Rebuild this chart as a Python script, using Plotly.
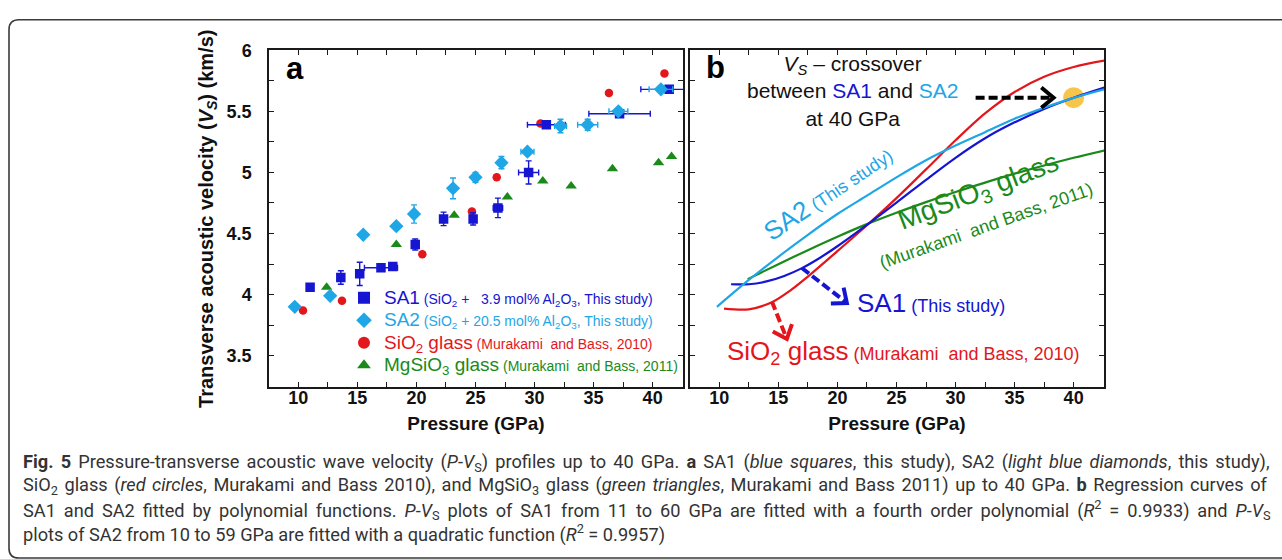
import math
import plotly.graph_objects as go

# ---------------- Panel a: measured P-Vs data ----------------
sa1_p = [11.0, 13.6, 15.2, 17.0, 18.0, 19.9, 22.3, 24.8, 26.9, 29.5, 31.0, 37.2, 41.4]
sa1_v = [4.06, 4.14, 4.17, 4.22, 4.23, 4.41, 4.62, 4.62, 4.71, 5.00, 5.39, 5.48, 5.68]
sa1_perr = [0, 0, 0, 1.4, 0, 0, 0, 0, 0.4, 0.85, 1.6, 2.6, 2.4]
sa1_verr = [0, 0.055, 0.095, 0, 0.02, 0.045, 0.055, 0.05, 0.08, 0.095, 0, 0, 0]

sa2_p = [9.7, 12.7, 15.5, 18.3, 19.8, 23.1, 25.0, 27.2, 29.4, 32.2, 34.5, 37.1, 40.7]
sa2_v = [3.90, 3.99, 4.49, 4.56, 4.66, 4.87, 4.96, 5.08, 5.17, 5.38, 5.39, 5.50, 5.68]
sa2_perr = [0.25, 0, 0, 0, 0, 0, 0, 0.3, 0.55, 0.5, 0.85, 0.8, 1.0]
sa2_verr = [0, 0, 0, 0, 0.075, 0.085, 0.04, 0.05, 0.02, 0.055, 0.045, 0.02, 0]

sio2_p = [10.4, 13.7, 20.5, 24.7, 26.8, 30.5, 36.3, 41.0]
sio2_v = [3.87, 3.95, 4.33, 4.68, 4.96, 5.40, 5.65, 5.81]

mgsio3_p = [12.4, 18.3, 23.2, 27.7, 30.7, 33.1, 36.6, 40.5, 41.6]
mgsio3_v = [4.06, 4.41, 4.65, 4.80, 4.93, 4.89, 5.03, 5.08, 5.13]

# ---------------- Panel b: regression curves ----------------
fit_sa1_p = [11.0, 12.5, 14.0, 15.5, 17.0, 18.5, 20.0, 22.5, 25.0, 27.5, 30.0, 32.5, 35.0, 37.5, 40.0, 42.6]
fit_sa1_v = [4.085, 4.085, 4.108, 4.153, 4.217, 4.300, 4.396, 4.571, 4.753, 4.940, 5.120, 5.280, 5.410, 5.520, 5.611, 5.694]

fit_sa2_p = [9.8, 12.5, 15.0, 17.5, 20.0, 22.5, 25.0, 27.5, 30.0, 32.5, 35.0, 37.5, 40.0, 42.6]
fit_sa2_v = [3.90, 4.12, 4.31, 4.49, 4.66, 4.81, 4.96, 5.10, 5.22, 5.33, 5.44, 5.53, 5.61, 5.68]

fit_sio2_p = [10.4, 12.5, 14.5, 16.0, 17.5, 20.0, 22.5, 25.0, 27.5, 30.0, 32.5, 35.0, 37.5, 40.0, 42.6]
fit_sio2_v = [3.886, 3.880, 3.940, 4.033, 4.148, 4.356, 4.568, 4.790, 5.025, 5.263, 5.483, 5.658, 5.783, 5.863, 5.915]

fit_mgsio3_p = [12.4, 15.0, 17.5, 20.0, 22.5, 25.0, 27.5, 30.0, 32.5, 35.0, 37.5, 40.0, 42.6]
fit_mgsio3_v = [4.127, 4.249, 4.364, 4.474, 4.577, 4.670, 4.757, 4.840, 4.917, 4.990, 5.057, 5.120, 5.180]

crossover_p = [40.0]
crossover_v = [5.612]

# axis ticks
x_tickvals = [10, 12.5, 15, 17.5, 20, 22.5, 25, 27.5, 30, 32.5, 35, 37.5, 40]
x_ticktext = ["10", "", "15", "", "20", "", "25", "", "30", "", "35", "", "40"]
y_tickvals = [3.5, 3.75, 4.0, 4.25, 4.5, 4.75, 5.0, 5.25, 5.5, 5.75, 6.0]
y_ticktext = ["3.5", "", "4", "", "4.5", "", "5", "", "5.5", "", "6"]

W, H = 1282, 559
BLUE = "#1515D2"
LIGHT = "#1EA6E6"
RED = "#E3161C"
GREEN = "#1A8A1A"
AX = "#1a1a1a"
FONT = "Arial, Liberation Sans, sans-serif"


def fx(px):
    return px / W


def fy(py):
    return 1 - py / H


fig = go.Figure()

# ---- panel a traces ----
fig.add_trace(go.Scatter(
    x=sio2_p, y=sio2_v, mode="markers", xaxis="x", yaxis="y",
    marker=dict(symbol="circle", size=8.5, color=RED),
    name=f"<span style='color:{RED};font-size:19px'>SiO<sub>2</sub> glass</span>"
         f"<span style='color:{RED};font-size:14px'> (Murakami\u00a0 and Bass, 2010)</span>",
    legendrank=3))
fig.add_trace(go.Scatter(
    x=mgsio3_p, y=mgsio3_v, mode="markers", xaxis="x", yaxis="y",
    marker=dict(symbol="triangle-up", size=10, color=GREEN),
    name=f"<span style='color:{GREEN};font-size:19px'>MgSiO<sub>3</sub> glass</span>"
         f"<span style='color:{GREEN};font-size:14px'> (Murakami\u00a0 and Bass, 2011)</span>",
    legendrank=4))
fig.add_trace(go.Scatter(
    x=sa1_p, y=sa1_v, mode="markers", xaxis="x", yaxis="y",
    marker=dict(symbol="square", size=9.5, color=BLUE),
    error_x=dict(type="data", array=sa1_perr, color=BLUE, thickness=1.4, width=3),
    error_y=dict(type="data", array=sa1_verr, color=BLUE, thickness=1.4, width=3),
    name=f"<span style='color:{BLUE};font-size:19px'>SA1</span>"
         f"<span style='color:{BLUE};font-size:14px'> (SiO<sub>2</sub> +\u00a0\u00a0 3.9 mol% Al<sub>2</sub>O<sub>3</sub>, This study)</span>",
    legendrank=1))
fig.add_trace(go.Scatter(
    x=sa2_p, y=sa2_v, mode="markers", xaxis="x", yaxis="y",
    marker=dict(symbol="diamond", size=11, color=LIGHT),
    error_x=dict(type="data", array=sa2_perr, color=LIGHT, thickness=1.4, width=3),
    error_y=dict(type="data", array=sa2_verr, color=LIGHT, thickness=1.4, width=3),
    name=f"<span style='color:{LIGHT};font-size:19px'>SA2</span>"
         f"<span style='color:{LIGHT};font-size:14px'> (SiO<sub>2</sub> + 20.5 mol% Al<sub>2</sub>O<sub>3</sub>, This study)</span>",
    legendrank=2))

# ---- panel b traces ----
fig.add_trace(go.Scatter(
    x=crossover_p, y=crossover_v, mode="markers", xaxis="x2", yaxis="y2",
    marker=dict(size=21, color="#F6C54A"), showlegend=False))
for px_, vy_, col in [(fit_mgsio3_p, fit_mgsio3_v, GREEN),
                      (fit_sio2_p, fit_sio2_v, RED),
                      (fit_sa1_p, fit_sa1_v, BLUE),
                      (fit_sa2_p, fit_sa2_v, LIGHT)]:
    fig.add_trace(go.Scatter(
        x=px_, y=vy_, mode="lines", xaxis="x2", yaxis="y2",
        line=dict(color=col, width=2.2, shape="spline", smoothing=0.9),
        showlegend=False))

# ---- axes ----
common = dict(showline=True, linecolor=AX, linewidth=1.5, mirror="ticks",
              ticks="inside", ticklen=5, tickwidth=1.3, tickcolor=AX,
              showgrid=False, zeroline=False,
              tickfont=dict(family=FONT, size=18, color="#111", weight="bold"))
xa = dict(common, range=[7.52, 42.57], tickmode="array", tickvals=x_tickvals,
          ticktext=x_ticktext, ticklabelstandoff=-6,
          title=dict(text="Pressure (GPa)", standoff=9,
                     font=dict(family=FONT, size=19, color="#111", weight="bold")))
ya = dict(common, range=[3.243, 6.0], tickmode="array", tickvals=y_tickvals,
          ticktext=y_ticktext, ticklabelstandoff=12)

fig.update_layout(
    width=W, height=H, autosize=False,
    margin=dict(l=0, r=0, t=0, b=0),
    paper_bgcolor="white", plot_bgcolor="white",
    xaxis=dict(xa, domain=[fx(269), fx(683)], anchor="y"),
    yaxis=dict(ya, domain=[fy(384), fy(41)], anchor="x",
               title=dict(text="Transverse acoustic velocity (<i>V<sub>S</sub></i>) (km/s)",
                          standoff=8,
                          font=dict(family=FONT, size=20, color="#111", weight="bold"))),
    xaxis2=dict(xa, domain=[fx(690), fx(1104)], anchor="y2"),
    yaxis2=dict(ya, domain=[fy(384), fy(41)], anchor="x2", showticklabels=False),
    showlegend=True,
    legend=dict(x=fx(344), y=fy(276.5), xanchor="left", yanchor="top",
                bgcolor="rgba(0,0,0,0)", font=dict(family=FONT, size=15),
                itemsizing="constant", tracegroupgap=0, traceorder="normal",
                itemwidth=30),
)

# ---- rounded frame around the figure ----
L, T, R, B, r = 9, 10, 1300, 558, 10
frame = (f"M {fx(R)},{fy(T)} L {fx(L + r)},{fy(T)} Q {fx(L)},{fy(T)} {fx(L)},{fy(T + r)} "
         f"L {fx(L)},{fy(B - r)} Q {fx(L)},{fy(B)} {fx(L + r)},{fy(B)} L {fx(R)},{fy(B)}")
fig.add_shape(type="path", path=frame, xref="paper", yref="paper",
              line=dict(color="#3a3a3a", width=1.6), layer="below")

# ---- dashed arrows in panel b ----
SX, SY = 11.81, 124.4  # pixels per unit along P and Vs


def dashed_arrow(x0, y0, x1, y1, color, size=16, spread=40, width=4, dash="9px,4px"):
    fig.add_shape(type="line", xref="x2", yref="y2", x0=x0, y0=y0, x1=x1, y1=y1,
                  line=dict(color=color, width=width, dash=dash))
    dx, dy = (x1 - x0) * SX, -(y1 - y0) * SY
    n = math.hypot(dx, dy)
    rx, ry = -dx / n, -dy / n
    pts = []
    for s in (1, -1):
        a = math.radians(spread) * s
        ax_ = rx * math.cos(a) - ry * math.sin(a)
        ay_ = rx * math.sin(a) + ry * math.cos(a)
        pts.append((x1 + size * ax_ / SX, y1 - size * ay_ / SY))
    path = (f"M {pts[0][0]},{pts[0][1]} L {x1},{y1} L {pts[1][0]},{pts[1][1]}")
    fig.add_shape(type="path", xref="x2", yref="y2", path=path,
                  line=dict(color=color, width=width))


dashed_arrow(31.7, 5.612, 38.3, 5.612, "#000000")
dashed_arrow(16.99, 4.218, 20.8, 3.932, BLUE)
dashed_arrow(14.45, 3.944, 15.72, 3.637, RED)

# ---- text in panels ----
fig.add_annotation(xref="x", yref="y", x=9.72, y=5.85, text="<b>a</b>", showarrow=False,
                   font=dict(family=FONT, size=31, color="#000"))
fig.add_annotation(xref="x2", yref="y2", x=9.66, y=5.855, text="<b>b</b>", showarrow=False,
                   font=dict(family=FONT, size=31, color="#000"))
fig.add_annotation(
    xref="x2", yref="y2", x=21.29, y=5.665, showarrow=False, align="center",
    text=(f"<i>V</i><sub><i>S</i></sub> – crossover<br>between "
          f"<span style='color:{BLUE}'>SA1</span> and <span style='color:{LIGHT}'>SA2</span>"
          f"<br>at 40 GPa"),
    font=dict(family=FONT, size=21, color="#111"))
fig.add_annotation(
    xref="x2", yref="y2", x=19.17, y=4.83, showarrow=False, textangle=-34,
    text="SA2<span style='font-size:18px'> (This study)</span>",
    font=dict(family=FONT, size=26, color=LIGHT))
fig.add_annotation(
    xref="x2", yref="y2", x=32.0, y=4.835, showarrow=False, textangle=-21,
    text="MgSiO<sub>3</sub> glass",
    font=dict(family=FONT, size=28, color=GREEN))
fig.add_annotation(
    xref="x2", yref="y2", x=32.59, y=4.56, showarrow=False, textangle=-19.5,
    text="(Murakami\u00a0 and Bass, 2011)",
    font=dict(family=FONT, size=18, color=GREEN))
fig.add_annotation(
    xref="x2", yref="y2", x=21.52, y=3.935, xanchor="left", showarrow=False,
    text="SA1<span style='font-size:18px'> (This study)</span>",
    font=dict(family=FONT, size=26, color=BLUE))
fig.add_annotation(
    xref="x2", yref="y2", x=10.51, y=3.525, xanchor="left", showarrow=False,
    text="SiO<sub>2</sub> glass<span style='font-size:18px'> (Murakami\u00a0 and Bass, 2010)</span>",
    font=dict(family=FONT, size=26, color=RED))

# ---- caption (justified lines via word spacing) ----
caption = [
    "<b>Fig. 5</b> Pressure-transverse acoustic wave velocity (<i>P</i>-<i>V</i><sub>S</sub>) profiles up to 40 GPa. "
    "<b>a</b> SA1 (<i>blue squares</i>, this study), SA2 (<i>light blue diamonds</i>, this study),",
    "SiO<sub>2</sub> glass (<i>red circles</i>, Murakami and Bass 2010), and MgSiO<sub>3</sub> glass "
    "(<i>green triangles</i>, Murakami and Bass 2011) up to 40 GPa. <b>b</b> Regression curves of",
    "SA1 and SA2 fitted by polynomial functions. <i>P</i>-<i>V</i><sub>S</sub> plots of SA1 from 11 to 60 GPa "
    "are fitted with a fourth order polynomial (<i>R</i><sup>2</sup> = 0.9933) and <i>P</i>-<i>V</i><sub>S</sub>",
    "plots of SA2 from 10 to 59 GPa are fitted with a quadratic function (<i>R</i><sup>2</sup> = 0.9957)",
]
word_gap = [2.65, 2.0, 3.4, 0.0]
for i, line in enumerate(caption):
    fig.add_annotation(xref="paper", yref="paper", x=fx(21), y=fy(461 + 24 * i),
                       xanchor="left", yanchor="middle", showarrow=False,
                       text=f"<span style='word-spacing:{word_gap[i]}px'>{line}</span>",
                       font=dict(family="Roboto, Open Sans, sans-serif", size=18.2, color="#333"))

fig.write_html("out.html")
